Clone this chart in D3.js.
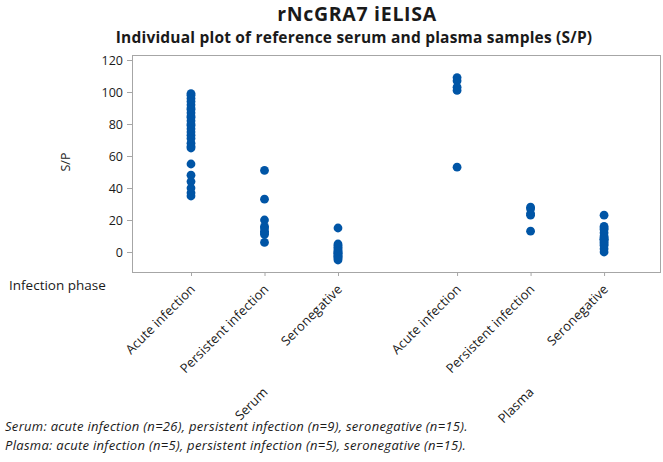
<!DOCTYPE html>
<html>
<head>
<meta charset="utf-8">
<script src="https://cdn.jsdelivr.net/npm/d3@7"></script>
<style>
  html, body { margin: 0; padding: 0; background: #fff; }
  svg { display: block; font-family: "Open Sans", "Noto Sans", sans-serif; }
</style>
</head>
<body>
<svg id="chart" width="663" height="462"></svg>
<script>
// ---- Data ----
const categories = ["Acute infection", "Persistent infection", "Seronegative"];
const groups = ["Serum", "Plasma"];
const serumAcute = [99, 98, 96, 94, 92, 90, 89, 87, 85, 84, 82, 80, 79, 77, 75, 73, 71, 68, 66, 65, 55, 48, 44, 40, 37, 35];
const serumPersistent = [51, 33, 20, 16, 15, 13, 12, 11, 6];
const serumSeronegative = [15, 5, 4, 3, 2, 1, 0, 0, -1, -1, -2, -3, -3, -4, -5];
const plasmaAcute = [109, 107, 103, 101, 53];
const plasmaPersistent = [28, 27, 24, 23, 13];
const plasmaSeronegative = [23, 16, 15, 14, 12, 10, 9, 8, 8, 7, 6, 5, 4, 2, 0];
const yTicks = [0, 20, 40, 60, 80, 100, 120];
const titleText = "rNcGRA7 iELISA";
const subtitleText = "Individual plot of reference serum and plasma samples (S/P)";
const footnotes = [
  "Serum: acute infection (n=26), persistent infection (n=9), seronegative (n=15).",
  "Plasma: acute infection (n=5), persistent infection (n=5), seronegative (n=15)."
];

const seriesList = [
  { group: "Serum", cat: "Acute infection", values: serumAcute },
  { group: "Serum", cat: "Persistent infection", values: serumPersistent },
  { group: "Serum", cat: "Seronegative", values: serumSeronegative },
  { group: "Plasma", cat: "Acute infection", values: plasmaAcute },
  { group: "Plasma", cat: "Persistent infection", values: plasmaPersistent },
  { group: "Plasma", cat: "Seronegative", values: plasmaSeronegative }
];

// ---- Layout ----
const svg = d3.select("#chart");
const frame = { left: 132, right: 661, top: 55, bottom: 272 };
const blue = "#0055a6";
const grey = "#a6a6a6";
const ink = "#1a1a1a";

const groupOffset = 3.62;
const posIndex = (s) => groups.indexOf(s.group) * groupOffset + categories.indexOf(s.cat);

const x = d3.scaleLinear().domain([0, 1]).range([191, 264.5]);
const y = d3.scaleLinear().domain([0, 120]).range([252, 60]);

// Titles
svg.append("text").attr("x", 357).attr("y", 21).attr("text-anchor", "middle")
  .attr("font-size", 19.5).attr("font-weight", "bold").attr("letter-spacing", 0.7)
  .attr("fill", ink).text(titleText);
svg.append("text").attr("x", 354).attr("y", 43).attr("text-anchor", "middle")
  .attr("font-size", 15.5).attr("font-weight", "bold").attr("letter-spacing", 0.2)
  .attr("fill", ink).text(subtitleText);

// Frame
svg.append("rect").attr("x", frame.left + 0.5).attr("y", frame.top + 0.5)
  .attr("width", frame.right - frame.left - 1).attr("height", frame.bottom - frame.top)
  .attr("fill", "none").attr("stroke", grey).attr("stroke-width", 1);

// Y axis
const yAxis = d3.axisLeft(y).tickValues(yTicks).tickSize(5).tickPadding(4);
const gy = svg.append("g").attr("transform", `translate(${frame.left},0)`).call(yAxis);
gy.select(".domain").remove();
gy.selectAll(".tick line").attr("stroke", grey);
gy.selectAll(".tick text").attr("font-size", 12.5).attr("fill", ink)
  .attr("font-family", "'Open Sans', sans-serif");

// Y label
svg.append("text").attr("transform", "translate(70,162) rotate(-90)")
  .attr("text-anchor", "middle").attr("font-size", 12.5).attr("fill", ink).text("S/P");

// X ticks and labels
const tickData = seriesList.map(s => ({ pos: posIndex(s), label: s.cat }));
const gx = svg.append("g");
gx.selectAll("line").data(tickData).join("line")
  .attr("x1", d => x(d.pos) + 0.5).attr("x2", d => x(d.pos) + 0.5)
  .attr("y1", frame.bottom).attr("y2", frame.bottom + 4)
  .attr("stroke", grey);
gx.selectAll("text").data(tickData).join("text")
  .attr("transform", d => `translate(${x(d.pos) + 5},${frame.bottom + 18}) rotate(-45)`)
  .attr("text-anchor", "end").attr("font-size", 13).attr("letter-spacing", 0.1).attr("fill", ink)
  .text(d => d.label);

// Group labels
groups.forEach((g, i) => {
  const px = x(i * groupOffset + 1);
  svg.append("text")
    .attr("transform", `translate(${px + 4},${393}) rotate(-45)`)
    .attr("text-anchor", "end").attr("font-size", 13).attr("fill", ink).text(g);
});

// Infection phase label
svg.append("text").attr("x", 9).attr("y", 290).attr("font-size", 13.5)
  .attr("fill", ink).text("Infection phase");

// Points
const pts = seriesList.flatMap(s => s.values.map(v => ({ pos: posIndex(s), v })));
svg.append("g").selectAll("circle").data(pts).join("circle")
  .attr("cx", d => x(d.pos)).attr("cy", d => y(d.v)).attr("r", 4.4)
  .attr("fill", blue);

// Footnotes
footnotes.forEach((t, i) => {
  svg.append("text").attr("x", 5).attr("y", 431 + i * 19)
    .attr("font-size", 13).attr("letter-spacing", 0.3).attr("font-style", "italic")
    .attr("fill", ink).text(t);
});
</script>
</body>
</html>
